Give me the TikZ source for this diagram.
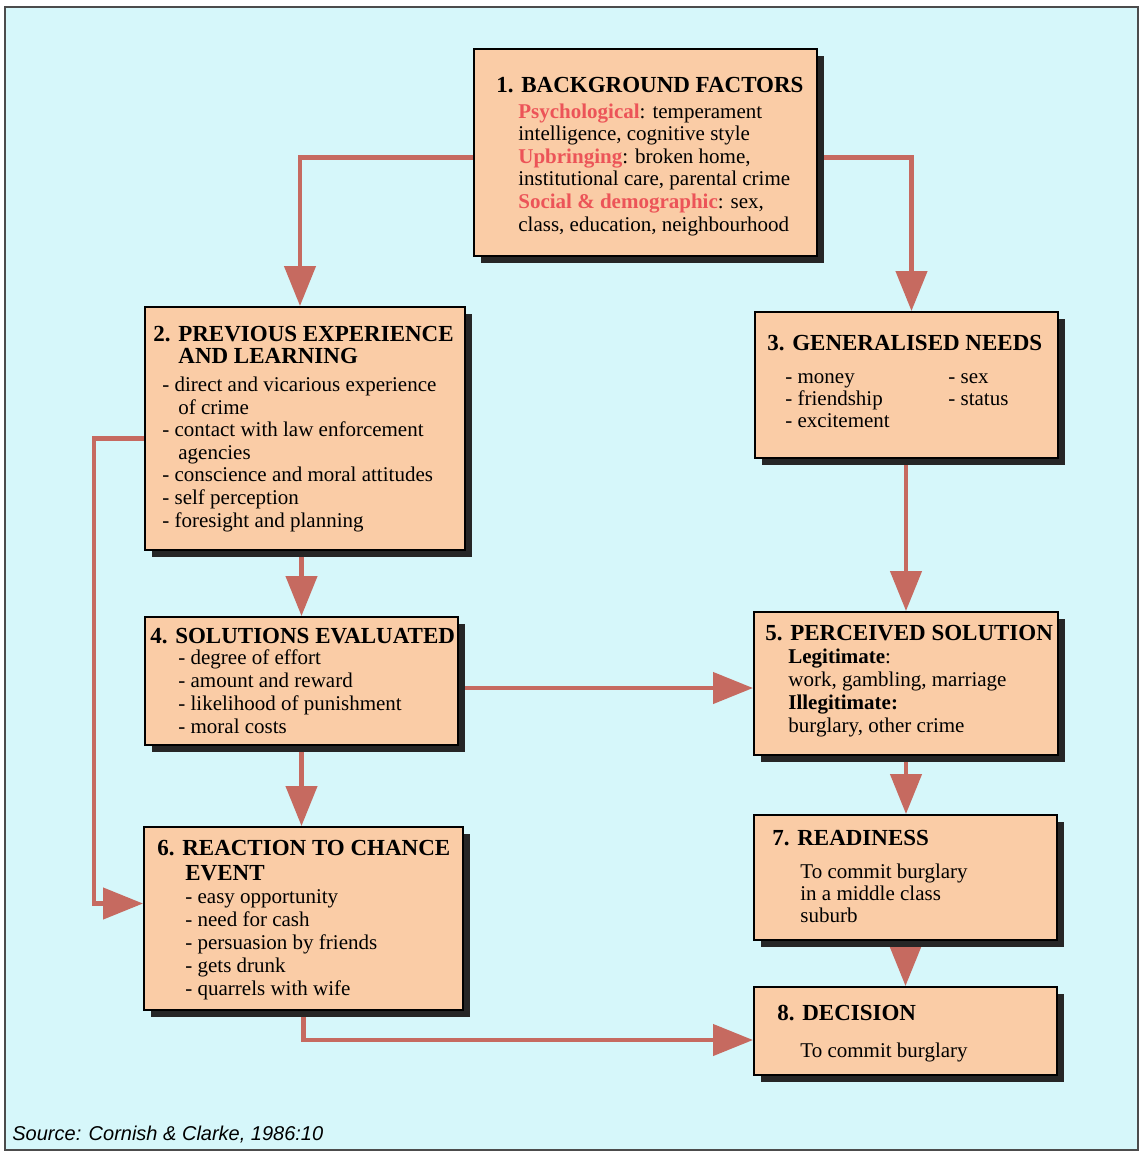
\documentclass[tikz,border=0pt]{standalone}
\usepackage{fontspec}
\setmainfont{Liberation Serif}
\newfontfamily\sourcefont{Liberation Sans}
\usetikzlibrary{arrows.meta,fit,shadows,backgrounds}

\definecolor{pagecyan}{RGB}{214,247,250}
\definecolor{boxfill}{RGB}{250,204,166}
\definecolor{flowred}{RGB}{198,106,96}
\definecolor{keyred}{RGB}{236,84,88}

\tikzset{
  stage/.style={draw=black, line width=1pt, fill=boxfill, inner sep=0pt,
    drop shadow={shadow xshift=3.5pt, shadow yshift=-3.5pt, fill=black!85, opacity=1}},
  stagehead/.style={anchor=base west, inner sep=0pt, align=left,
    font=\fontsize{11.5}{10.8}\selectfont\bfseries},
  stagebody/.style={anchor=base west, inner sep=0pt, align=left,
    font=\fontsize{10.5}{11.3}\selectfont},
  flow/.style={draw=flowred, line width=2.2pt, -{Triangle[width=15.5pt,length=20pt]}}
}
\newcommand{\keyword}[1]{\textcolor{keyred}{\textbf{#1}}}

\begin{document}
\begin{tikzpicture}[x=0.5pt,y=-0.5pt]
\useasboundingbox (0,0) rectangle (1141,1153);
\begin{pgfonlayer}{background}
\draw[draw=black!70, line width=0.8pt, fill=pagecyan] (5,7) rectangle (1138,1150);
\end{pgfonlayer}

\node[stage, fit={(474,49) (817,256)}] (bg) {};
\node[stage, fit={(145,307) (465,550)}] (prev) {};
\node[stage, fit={(755,312) (1058,458)}] (needs) {};
\node[stage, fit={(145,617) (458,745)}] (solev) {};
\node[stage, fit={(754,612) (1058,755)}] (percsol) {};
\node[stage, fit={(144,827) (463,1010)}] (chance) {};
\node[stage, fit={(754,815) (1057,940)}] (ready) {};
\node[stage, fit={(754,987) (1057,1075)}] (decide) {};

% base anchors sit on the last line of each text
\node[stagehead] (bghead) at (496,92) {1. BACKGROUND FACTORS};
\node[stagebody] (bgtext) at (518,231) {\keyword{Psychological}: temperament\\
intelligence, cognitive style\\
\keyword{Upbringing}: broken home,\\
institutional care, parental crime\\
\keyword{Social \& demographic}: sex,\\
class, education, neighbourhood};

\node[stagehead] (prevhead) at (153,363) {2. PREVIOUS EXPERIENCE\\\hspace*{12.5pt}AND LEARNING};
\node[stagebody] (prevtext) at (162,527) {- direct and vicarious experience\\
\hspace*{8pt}of crime\\
- contact with law enforcement\\
\hspace*{8pt}agencies\\
- conscience and moral attitudes\\
- self perception\\
- foresight and planning};

\node[stagehead] (needshead) at (767,350) {3. GENERALISED NEEDS};
\node[stagebody, font=\fontsize{10.5}{11}\selectfont] (needsleft) at (785,427) {- money\\- friendship\\- excitement};
\node[stagebody, font=\fontsize{10.5}{11}\selectfont] (needsright) at (948,405) {- sex\\- status};

\node[stagehead] (solevhead) at (150,643) {4. SOLUTIONS EVALUATED};
\node[stagebody, font=\fontsize{10.5}{11.35}\selectfont] (solevtext) at (178,733) {- degree of effort\\
- amount and reward\\
- likelihood of punishment\\
- moral costs};

\node[stagehead] (percsolhead) at (765,640) {5. PERCEIVED SOLUTION};
\node[stagebody, font=\fontsize{10.5}{11.5}\selectfont] (percsoltext) at (788,732) {\textbf{Legitimate}:\\
work, gambling, marriage\\
\textbf{Illegitimate:}\\
burglary, other crime};

\node[stagehead, font=\fontsize{11.5}{12.5}\selectfont\bfseries] (chancehead) at (157,880) {6. REACTION TO CHANCE\\\hspace*{14pt}EVENT};
\node[stagebody, font=\fontsize{10.5}{11.5}\selectfont] (chancetext) at (185,995) {- easy opportunity\\
- need for cash\\
- persuasion by friends\\
- gets drunk\\
- quarrels with wife};

\node[stagehead] (readyhead) at (772,845) {7. READINESS};
\node[stagebody, font=\fontsize{10.5}{11}\selectfont] (readytext) at (800,922) {To commit burglary\\
in a middle class\\
suburb};

\node[stagehead] (decidehead) at (777,1020) {8. DECISION};
\node[stagebody] (decidetext) at (800,1057) {To commit burglary};

\node[anchor=base west, inner sep=0pt, font=\sourcefont\itshape\fontsize{10}{12}\selectfont] (source) at (12,1140) {Source: Cornish \& Clarke, 1986:10};

\begin{pgfonlayer}{background}
\draw[flow] ([shift={(0,5)}]bg.west) -| ([shift={(-5,0)}]prev.north);
\draw[flow] ([shift={(0,5)}]bg.east) -| ([shift={(5,0)}]needs.north);
\draw[flow] (prev.south -| solev.north) -- (solev.north);
\draw[flow] (needs.south -| percsol.north) -- (percsol.north);
\draw[flow] ([shift={(0,7)}]solev.east) -- ([shift={(0,7)}]solev.east -| percsol.west);
\draw[flow] (solev.south) -- (solev.south |- chance.north);
\draw[flow] (percsol.south) -- (percsol.south |- ready.north);
\draw[flow] (ready.south) -- (decide.north);
\draw[flow] ([shift={(0,10)}]prev.west) -- ++(-50,0) |- ([shift={(0,-15)}]chance.west);
\draw[flow] (chance.south) |- ([shift={(0,9)}]decide.west);
\end{pgfonlayer}
\end{tikzpicture}
\end{document}
